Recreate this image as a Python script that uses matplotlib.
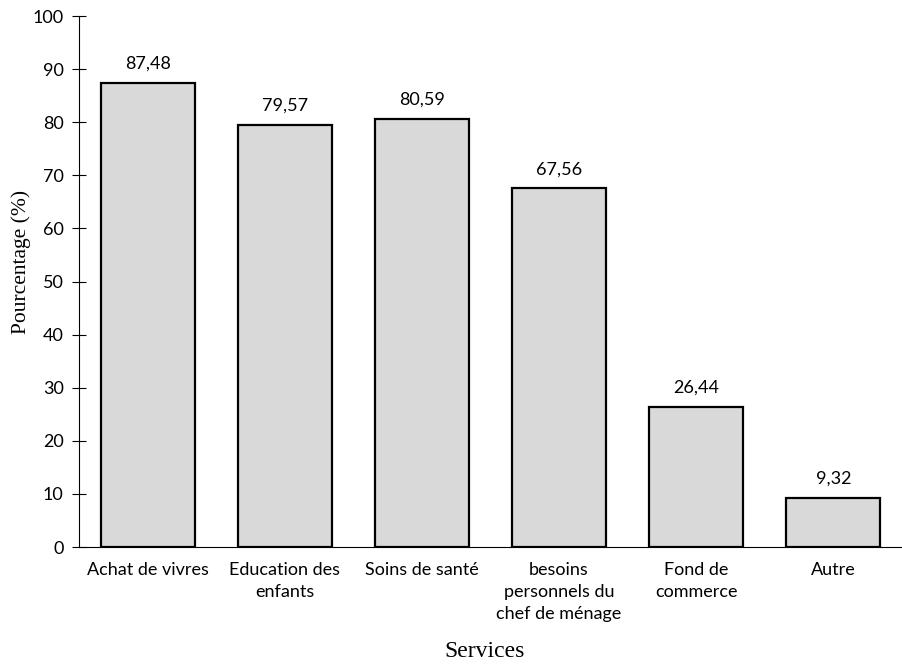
import matplotlib.pyplot as plt

services = ["Achat de vivres", "Education des\nenfants", "Soins de santé",
            "besoins\npersonnels du\nchef de ménage", "Fond de\ncommerce", "Autre"]
pourcentages = [87.48, 79.57, 80.59, 67.56, 26.44, 9.32]
yticks = list(range(0, 101, 10))

fig = plt.figure(figsize=(9.02, 6.65), dpi=100)
ax = fig.add_axes([0.0876, 0.1774, 0.9124, 0.7985])

x = range(len(services))
bars = ax.bar(x, pourcentages, width=0.686, color="#d9d9d9",
              edgecolor="black", linewidth=1.6, zorder=3)

for xi, v in zip(x, pourcentages):
    ax.annotate(f"{v:.2f}".replace(".", ","), (xi, v), xytext=(0, 8),
                textcoords="offset points", ha="center", va="bottom",
                fontsize=13, family="Lato")

ax.set_xlim(-0.5, len(services) - 0.5)
ax.set_ylim(0, 100)
ax.set_yticks(yticks)
ax.set_yticklabels([str(t) for t in yticks], family="Lato", fontsize=13)
ax.set_xticks(list(x))
ax.set_xticklabels(services, family="Lato", fontsize=13, linespacing=1.45)
ax.tick_params(axis="y", direction="inout", length=10, width=0.8, pad=6)
ax.tick_params(axis="x", length=0, pad=11)

for side in ["top", "right"]:
    ax.spines[side].set_visible(False)
ax.spines["left"].set_linewidth(0.8)
ax.spines["bottom"].set_linewidth(0.8)

fig.text(0.023, 0.606, "Pourcentage (%)", family="Liberation Serif", fontsize=15.5,
         rotation=90, ha="center", va="center")
fig.text(0.537, 0.004, "Services", family="Liberation Serif", fontsize=17,
         ha="center", va="bottom")

fig.savefig("out.png", dpi=100)
